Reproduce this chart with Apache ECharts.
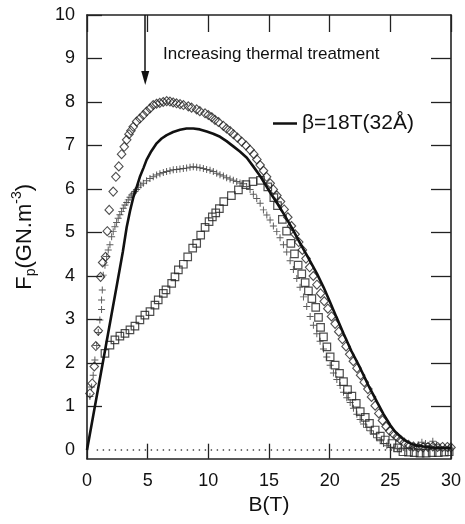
<!DOCTYPE html>
<html><head><meta charset="utf-8">
<script src="https://cdn.jsdelivr.net/npm/echarts@6.0.0/dist/echarts.min.js"></script>
<style>html,body{margin:0;padding:0;background:#fff}#c{width:465px;height:524px}</style>
</head><body><div id="c"></div>
<script>
// ---- data ----
const diamondX=[0.24,0.43,0.6,0.73,0.93,1.12,1.29,1.53,1.67,1.83,2.16,2.38,2.62,2.85,3.07,3.27,3.46,3.62,3.81,4.09,4.36,4.64,4.91,5.19,5.46,5.73,6.0,6.28,6.57,6.84,7.1,7.38,7.67,7.95,8.35,8.62,9.04,9.3,9.73,10.0,10.28,10.55,10.83,11.24,11.5,11.8,12.07,12.4,12.75,13.1,13.44,13.75,14.0,14.27,14.55,14.8,15.1,15.35,15.65,15.95,16.25,16.55,16.85,17.15,17.45,17.75,18.05,18.35,18.65,18.95,19.25,19.55,19.85,20.15,20.45,20.75,21.05,21.35,21.65,21.95,22.25,22.55,22.85,23.15,23.45,23.75,24.05,24.35,24.65,24.95,25.25,25.55,25.85,26.15,26.5,26.9,27.3,27.7,28.1,28.5,28.9,29.3,29.7,30.0];
const diamondY=[1.30,1.53,1.92,2.39,2.74,3.98,4.31,4.44,5.03,5.52,5.94,6.28,6.52,6.80,6.97,7.13,7.26,7.34,7.43,7.55,7.62,7.70,7.78,7.85,7.93,7.96,7.98,8.0,8.02,8.01,7.99,7.97,7.95,7.93,7.90,7.87,7.83,7.79,7.74,7.70,7.65,7.59,7.54,7.45,7.39,7.33,7.26,7.18,7.09,7.0,6.9,6.8,6.68,6.55,6.42,6.28,6.13,5.99,5.85,5.71,5.53,5.35,5.15,4.96,4.78,4.6,4.4,4.2,4.0,3.8,3.6,3.42,3.25,3.07,2.9,2.72,2.55,2.38,2.2,2.04,1.88,1.72,1.56,1.4,1.22,1.02,0.84,0.68,0.54,0.44,0.37,0.3,0.23,0.17,0.12,0.08,0.06,0.06,0.07,0.08,0.07,0.07,0.07,0.06];

const crossX=[0.24,0.38,0.51,0.65,0.8,0.93,1.06,1.2,1.2,1.26,1.34,1.48,1.62,1.75,1.89,2.03,2.16,2.3,2.44,2.57,2.71,2.85,2.99,3.13,3.27,3.4,3.54,3.68,3.82,3.95,4.09,4.23,4.43,4.64,4.91,5.19,5.46,5.74,6.01,6.29,6.56,6.84,7.11,7.39,7.66,7.94,8.21,8.49,8.76,9.04,9.31,9.59,9.86,10.14,10.41,10.69,10.96,11.24,11.51,11.79,12.06,12.34,12.61,12.89,13.16,13.44,13.71,13.99,14.27,14.54,14.82,15.09,15.36,15.64,15.91,16.19,16.46,16.74,17.01,17.29,17.56,17.84,18.11,18.39,18.66,18.94,19.21,19.49,19.76,20.04,20.31,20.59,20.86,21.14,21.41,21.69,21.96,22.24,22.51,22.79,23.06,23.34,23.61,23.89,24.16,24.44,24.71,25.0,25.3,25.6,25.9,26.3,26.7,27.0,27.3,27.6,27.9,28.2,28.5,28.8,29.1,29.5,29.8];
const crossY=[1.23,1.45,1.72,2.07,2.4,2.7,2.99,3.23,3.45,3.68,4.02,4.25,4.45,4.6,4.72,4.9,5.02,5.13,5.23,5.33,5.41,5.48,5.56,5.63,5.69,5.75,5.81,5.86,5.9,5.94,5.99,6.04,6.09,6.13,6.19,6.24,6.28,6.32,6.35,6.38,6.4,6.42,6.44,6.45,6.46,6.47,6.48,6.5,6.51,6.5,6.49,6.47,6.45,6.43,6.4,6.36,6.33,6.3,6.26,6.23,6.2,6.17,6.14,6.12,6.06,5.99,5.88,5.78,5.67,5.52,5.4,5.29,5.15,5.02,4.88,4.72,4.55,4.35,4.15,3.94,3.74,3.52,3.3,3.07,2.87,2.67,2.5,2.32,2.14,1.95,1.77,1.62,1.48,1.33,1.2,1.09,0.96,0.82,0.7,0.6,0.52,0.44,0.36,0.28,0.21,0.15,0.1,0.06,0.04,0.03,0.03,0.04,0.06,0.08,0.12,0.18,0.15,0.1,0.2,0.12,0.07,0.05,0.04];

const squareX=[1.48,1.89,2.3,2.71,3.13,3.54,3.95,4.36,4.77,5.19,5.6,5.87,6.29,6.51,6.98,7.25,7.53,7.94,8.3,8.71,9.04,9.37,9.73,10.06,10.33,10.61,10.91,11.27,11.9,12.48,13.1,13.68,14.3,14.9,15.4,15.7,16.1,16.45,16.8,17.1,17.4,17.7,17.98,18.25,18.53,18.85,19.08,19.25,19.49,19.77,20.04,20.45,20.81,21.14,21.47,21.83,22.19,22.52,22.93,23.28,23.75,24.17,24.58,25.13,25.6,26.04,26.5,26.97,27.45,27.95,28.45,28.95,29.45,29.85];
const squareY=[2.22,2.41,2.53,2.62,2.68,2.76,2.85,2.99,3.1,3.18,3.33,3.45,3.6,3.68,3.83,3.98,4.14,4.27,4.44,4.64,4.75,4.94,5.12,5.25,5.36,5.45,5.55,5.71,5.85,5.98,6.1,6.17,6.2,6.05,5.8,5.62,5.3,5.03,4.75,4.51,4.25,4.05,3.85,3.66,3.48,3.28,3.05,2.82,2.6,2.37,2.14,1.95,1.76,1.57,1.39,1.24,1.07,0.88,0.75,0.61,0.46,0.32,0.23,0.15,0.05,-0.04,-0.05,-0.06,-0.07,-0.07,-0.06,-0.06,-0.05,-0.04];

const fitName='β=18T(32Å)';
const fitX=[0,0.5,1.0,1.5,2.0,2.5,2.95,3.27,3.55,3.81,4.1,4.36,4.65,4.91,5.3,5.74,6.15,6.57,7.1,7.67,8.2,8.76,9.3,9.87,10.4,10.97,11.5,12.06,12.6,13.17,13.7,14.27,14.75,15.2,15.7,16.19,16.9,17.57,18.25,18.94,19.5,20.0,20.55,21.14,21.8,22.52,23.2,23.89,24.45,25.0,25.4,25.82,26.2,26.65,27.2,27.74,28.3,28.84,29.4,30];
const fitY=[0,0.77,1.54,2.31,3.08,3.85,4.55,5.12,5.5,5.8,6.05,6.28,6.48,6.67,6.87,7.05,7.16,7.24,7.31,7.36,7.39,7.39,7.37,7.32,7.27,7.2,7.1,6.98,6.86,6.72,6.52,6.3,6.08,5.87,5.66,5.44,5.1,4.75,4.41,4.06,3.74,3.42,3.06,2.68,2.27,1.88,1.48,1.11,0.82,0.57,0.42,0.31,0.22,0.15,0.1,0.08,0.06,0.05,0.05,0.05];

const zeroX=[0.8,30];
const zeroY=[0,0];
const arrowX=[4.8,4.8];
const arrowY=[10,8.55];

const yLabels=[0,1,2,3,4,5,6,7,8,9,10];
const yTicksLeft=[1,2,3,4,5,6,7,8,9,10];
const yTicksRight=[1,2,3,4,5,6,7,8,9];
const annotation='Increasing thermal treatment';

// ---- chart ----
const zip=(xs,ys)=>xs.map((x,i)=>[x,ys[i]]);
const FONT='"Liberation Sans", Arial, sans-serif';
const INK='#111';
const chart=echarts.init(document.getElementById('c'),null,{renderer:'canvas'});
const plusPath='path://M4.3,0H5.7V4.3H10V5.7H5.7V10H4.3V5.7H0V4.3H4.3Z';
const axisLine={show:true,onZero:false,lineStyle:{color:'#222',width:1.6}};

chart.setOption({
  animation:false,
  backgroundColor:'#fff',
  grid:{left:87,right:14,top:15,bottom:65.3,containLabel:false},
  legend:{data:[fitName],left:273,top:113,padding:0,icon:'rect',itemWidth:24,itemHeight:2.5,
    textStyle:{fontSize:21,color:INK,fontFamily:FONT}},
  xAxis:[
    {type:'value',position:'bottom',min:0,max:30,interval:5,
     axisLine:axisLine,splitLine:{show:false},
     axisTick:{inside:true,length:15,lineStyle:{color:'#222',width:1.3}},
     axisLabel:{fontSize:18,color:INK,fontFamily:FONT,margin:13},
     name:'B(T)',nameLocation:'middle',nameGap:33,
     nameTextStyle:{fontSize:21,color:INK,fontFamily:FONT}},
    {type:'value',position:'top',min:0,max:30,interval:5,
     axisLine:axisLine,splitLine:{show:false},
     axisTick:{inside:true,length:17,lineStyle:{color:'#222',width:1.3}},
     axisLabel:{show:false}}
  ],
  yAxis:[
    {type:'value',position:'left',min:-0.2,max:10,splitNumber:10,
     axisLine:axisLine,splitLine:{show:false},
     axisTick:{inside:true,length:15,customValues:yTicksLeft,lineStyle:{color:'#222',width:1.3}},
     axisLabel:{customValues:yLabels,fontSize:18,color:INK,fontFamily:FONT,margin:12},
     name:'{a|F}{sub|p}{a|(GN.m}{sup|-3}{a|)}',nameLocation:'middle',nameGap:47,
     nameTextStyle:{fontFamily:FONT,color:INK,
       rich:{a:{fontSize:22,fontFamily:FONT,color:INK,lineHeight:30,verticalAlign:'middle'},
             sub:{fontSize:14,fontFamily:FONT,color:INK,lineHeight:30,verticalAlign:'bottom',padding:[0,0,2,0]},
             sup:{fontSize:14,fontFamily:FONT,color:INK,lineHeight:30,verticalAlign:'top'}}}},
    {type:'value',position:'right',min:-0.2,max:10,splitNumber:10,
     axisLine:axisLine,splitLine:{show:false},
     axisTick:{inside:true,length:20,customValues:yTicksRight,lineStyle:{color:'#222',width:1.3}},
     axisLabel:{show:false}}
  ],
  series:[
    {name:'zero',type:'line',data:zip(zeroX,zeroY),showSymbol:false,silent:true,
     lineStyle:{color:'#444',width:1.4,type:[1.4,4.6]},
     markLine:{silent:true,symbol:['none','triangle'],symbolSize:[8,14],
       lineStyle:{color:INK,width:1.5,type:'solid'},label:{show:false},
       data:[[{coord:[arrowX[0],arrowY[0]]},{coord:[arrowX[1],arrowY[1]]}]]}},
    {name:'squares',type:'scatter',data:zip(squareX,squareY),symbol:'rect',symbolSize:7.5,
     itemStyle:{color:'rgba(0,0,0,0)',borderColor:'#222',borderWidth:1.2}},
    {name:'crosses',type:'scatter',data:zip(crossX,crossY),symbol:plusPath,symbolSize:7,
     itemStyle:{color:'#333'}},
    {name:'diamonds',type:'scatter',data:zip(diamondX,diamondY),symbol:'diamond',symbolSize:[8.5,9],
     itemStyle:{color:'rgba(0,0,0,0)',borderColor:'#222',borderWidth:1.1}},
    {name:fitName,type:'line',data:zip(fitX,fitY),showSymbol:false,smooth:false,
     lineStyle:{color:INK,width:2.6},itemStyle:{color:INK}}
  ],
  graphic:[
    {type:'text',left:163,top:46,style:{text:annotation,fontSize:17,fontFamily:FONT,fill:INK}}
  ]
});
</script>
</body></html>
